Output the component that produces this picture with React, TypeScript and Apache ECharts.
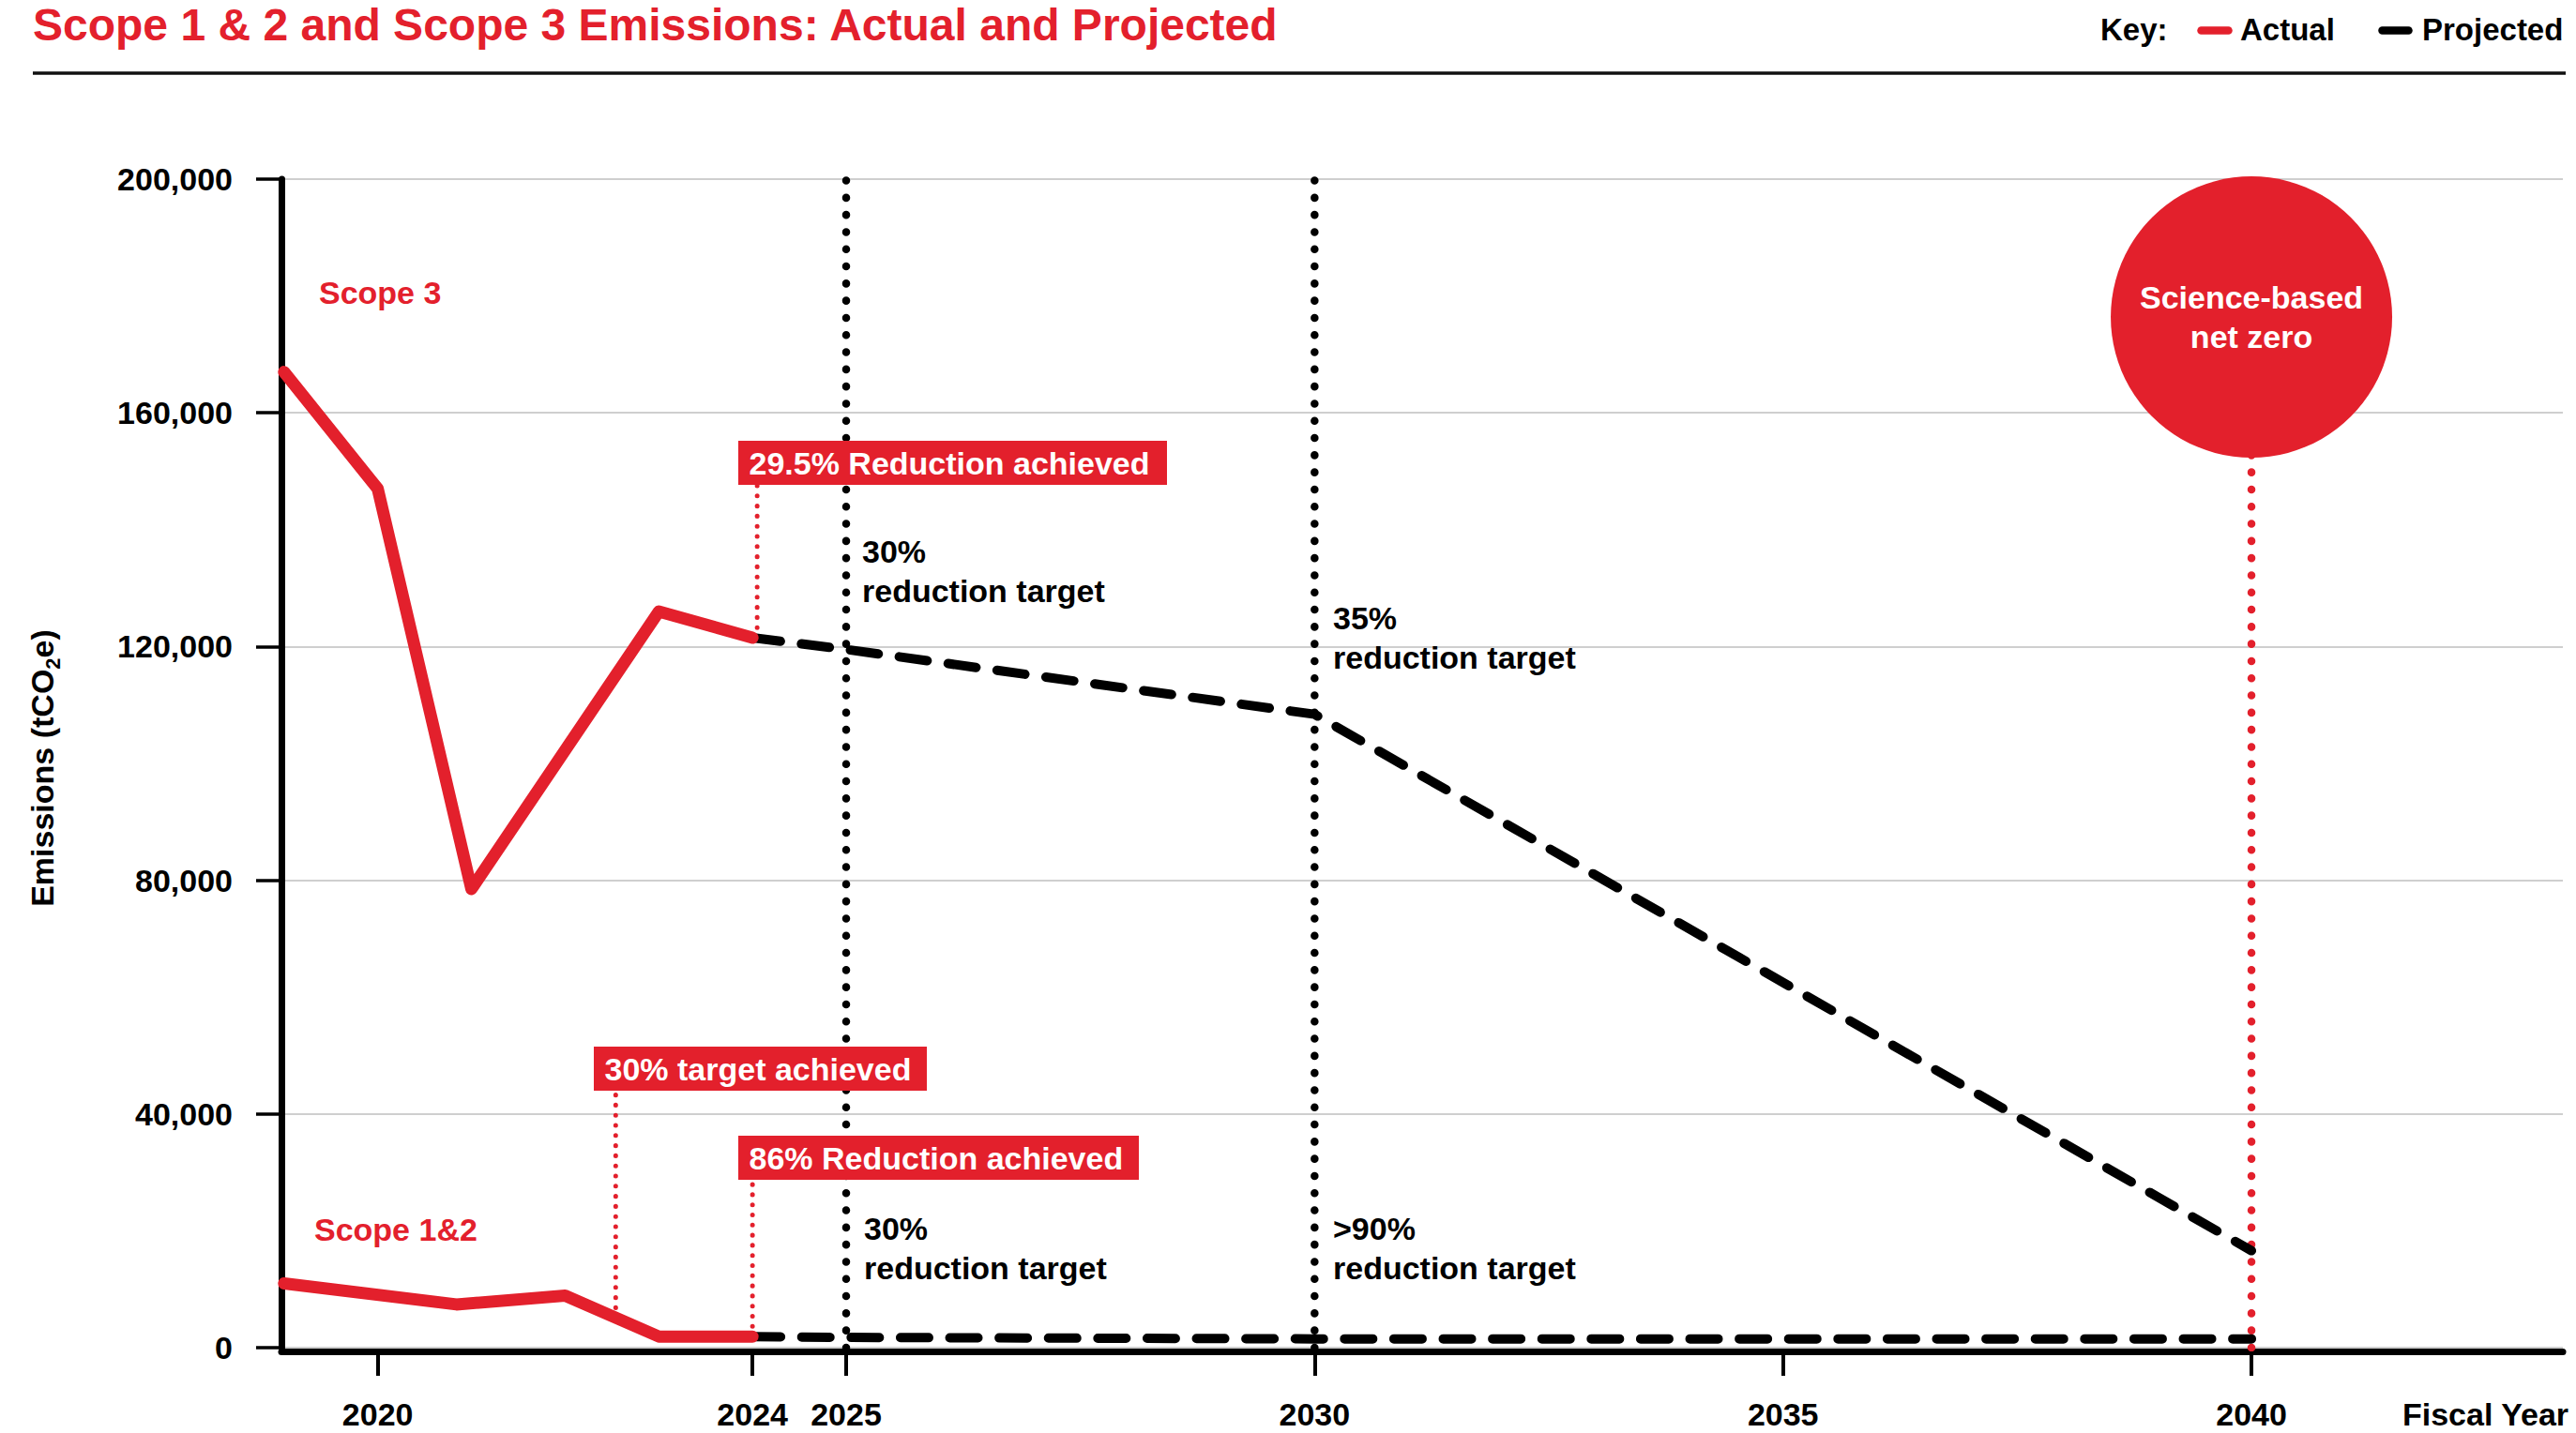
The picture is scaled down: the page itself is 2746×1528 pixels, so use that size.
import React, { useEffect, useRef } from 'react';
import * as echarts from 'echarts';

const RED = '#E3202C';
const FONT = '"Liberation Sans", Arial, Helvetica, sans-serif';

// ---- data ----
const scope3ActualYears = [2019, 2020, 2021, 2023, 2024];
const scope3ActualValues = [167000, 147000, 78500, 126000, 121500];
const scope12ActualYears = [2019, 2020.84, 2022, 2023, 2024];
const scope12ActualValues = [11000, 7400, 8900, 1900, 1900];
const projectedYears = [2024, 2025, 2030, 2040];
const scope3ProjectedValues = [121500, 119500, 108400, 16600];
const scope12ProjectedValues = [1900, 1750, 1500, 1500];
const targetYears = [2025, 2030];
const netZeroYear = 2040;
const netZeroBadgeValue = 176400;
const xTickYears = [2020, 2024, 2025, 2030, 2035, 2040];
// connectors from "achieved" boxes down to the lines: year, lower value, upper value
const connectorYears = [2024.05, 2022.54, 2024];
const connectorLow = [121500, 5100, 1900];
const connectorHigh = [147700, 44000, 28900];

const pairs = (xs: number[], ys: number[]) => xs.map((x, i) => [x, ys[i]]);

export default function App() {
  const ref = useRef<HTMLDivElement>(null);
  useEffect(() => {
    const el = ref.current!;
    const chart = echarts.init(el, null, { renderer: 'svg' });

    const txt = (text: string, x: number, y: number, opts: any = {}) => ({
      type: 'text',
      x,
      y,
      z: 100,
      silent: true,
      style: {
        text,
        fill: '#000',
        fontSize: 34,
        fontWeight: 'bold',
        fontFamily: FONT,
        textAlign: 'left',
        textVerticalAlign: 'middle',
        align: 'left',
        verticalAlign: 'middle',
        ...opts,
      },
    });
    const box = (text: string, x: number, y: number, w: number) => [
      { type: 'rect', z: 99, silent: true, shape: { x, y, width: w, height: 47 }, style: { fill: RED } },
      txt(text, x + 11.5, y + 23.5, { fill: '#fff' }),
    ];

    const lineBase = {
      type: 'line',
      symbol: 'none',
      showSymbol: false,
      silent: true,
      emphasis: { disabled: true },
      animation: false,
    };

    const series: any[] = [];
    targetYears.forEach((yr) => {
      series.push({
        ...lineBase,
        z: 1,
        data: [[yr, 0], [yr, 200000]],
        lineStyle: { color: '#000', width: 8.5, type: [0.1, 18.2], cap: 'round' },
      });
    });
    series.push({
      ...lineBase,
      z: 1,
      data: [[netZeroYear, 0], [netZeroYear, netZeroBadgeValue]],
      lineStyle: { color: RED, width: 8.5, type: [0.1, 18.2], cap: 'round' },
    });
    connectorYears.forEach((yr, i) => {
      series.push({
        ...lineBase,
        z: 1,
        data: [[yr, connectorLow[i]], [yr, connectorHigh[i]]],
        lineStyle: { color: RED, width: 5, type: [0.1, 10.7], cap: 'round' },
      });
    });
    [scope3ProjectedValues, scope12ProjectedValues].forEach((vals) => {
      series.push({
        ...lineBase,
        z: 3,
        data: pairs(projectedYears, vals),
        lineStyle: { color: '#000', width: 10, type: [30, 22.6], cap: 'round', join: 'round' },
      });
    });
    [[scope3ActualYears, scope3ActualValues], [scope12ActualYears, scope12ActualValues]].forEach(([xs, ys]) => {
      series.push({
        ...lineBase,
        z: 4,
        data: pairs(xs, ys),
        lineStyle: { color: RED, width: 13, cap: 'round', join: 'round' },
      });
    });
    series.push({
      type: 'scatter',
      z: 5,
      silent: true,
      animation: false,
      symbol: 'circle',
      symbolSize: 300,
      data: [[netZeroYear, netZeroBadgeValue]],
      itemStyle: { color: RED, opacity: 1 },
      emphasis: { disabled: true },
      label: {
        show: true,
        position: 'inside',
        formatter: 'Science-based\nnet zero',
        color: '#fff',
        opacity: 1,
        fontSize: 34,
        fontWeight: 'bold',
        fontFamily: FONT,
        lineHeight: 42,
        align: 'center',
      },
    });

    const graphic: any[] = [
      txt('Scope 1 & 2 and Scope 3 Emissions: Actual and Projected', 35, 26, { fontSize: 48, fill: RED }),
      { type: 'line', z: 100, silent: true, shape: { x1: 35, y1: 78, x2: 2735, y2: 78 }, style: { stroke: '#111', lineWidth: 3.5 } },
      txt('Key:', 2239, 31.5, { fontSize: 33 }),
      { type: 'line', z: 100, silent: true, shape: { x1: 2346.5, y1: 32.5, x2: 2375.5, y2: 32.5 }, style: { stroke: RED, lineWidth: 8.5, lineCap: 'round' } },
      txt('Actual', 2388, 31.5, { fontSize: 33 }),
      { type: 'line', z: 100, silent: true, shape: { x1: 2539.5, y1: 32.5, x2: 2567.5, y2: 32.5 }, style: { stroke: '#000', lineWidth: 8.5, lineCap: 'round' } },
      txt('Projected', 2582, 31.5, { fontSize: 33 }),
      txt('Scope 3', 340, 312, { fill: RED }),
      txt('Scope 1&2', 335, 1311, { fill: RED }),
      txt('30%\nreduction target', 919, 608.5, { lineHeight: 42 }),
      txt('35%\nreduction target', 1421, 679.6, { lineHeight: 42 }),
      txt('30%\nreduction target', 921, 1331, { lineHeight: 42 }),
      txt('>90%\nreduction target', 1421, 1331, { lineHeight: 42 }),
      ...box('29.5% Reduction achieved', 787, 470, 457),
      ...box('30% target achieved', 633, 1116, 355),
      ...box('86% Reduction achieved', 787, 1211, 427),
      txt('Fiscal Year', 2561, 1508),
      {
        type: 'text',
        x: 45,
        y: 819,
        rotation: Math.PI / 2,
        z: 100,
        silent: true,
        style: {
          text: '{a|Emissions (tCO}{s|2}{a|e)}',
          textAlign: 'center',
          textVerticalAlign: 'middle',
          align: 'center',
          verticalAlign: 'middle',
          fill: '#000',
          fontFamily: FONT,
          fontWeight: 'bold',
          fontSize: 34,
          rich: {
            a: { fontSize: 34, fontWeight: 'bold', fontFamily: FONT, fill: '#000', color: '#000', lineHeight: 44 },
            s: { fontSize: 22, fontWeight: 'bold', fontFamily: FONT, fill: '#000', color: '#000', lineHeight: 22, verticalAlign: 'bottom' },
          },
        },
      },
    ];

    chart.setOption({
      animation: false,
      textStyle: { fontFamily: FONT },
      grid: { left: 300, right: 14, top: 191, bottom: 91, containLabel: false, outerBoundsMode: 'none' },
      xAxis: {
        type: 'value',
        min: 2018.972,
        max: 2043.324,
        offset: 4,
        axisLine: { show: true, onZero: false, lineStyle: { color: '#000', width: 7 } },
        axisTick: { show: true, customValues: xTickYears, length: 26, lineStyle: { color: '#000', width: 4 } },
        axisLabel: {
          show: true,
          customValues: xTickYears,
          formatter: (v: number) => String(v),
          margin: 50,
          fontSize: 34,
          fontWeight: 'bold',
          color: '#000',
          fontFamily: FONT,
          hideOverlap: false,
        },
        splitLine: { show: false },
      },
      yAxis: {
        type: 'value',
        min: 0,
        max: 200000,
        interval: 40000,
        axisLine: { show: true, onZero: false, lineStyle: { color: '#000', width: 7 } },
        axisTick: { show: true, length: 27, lineStyle: { color: '#000', width: 3.5 } },
        axisLabel: {
          margin: 52,
          formatter: (v: number) => v.toLocaleString('en-US'),
          fontSize: 34,
          fontWeight: 'bold',
          color: '#000',
          fontFamily: FONT,
        },
        splitLine: { show: true, lineStyle: { color: '#cfcfcf', width: 2 } },
      },
      series,
      graphic,
    });

    return () => chart.dispose();
  }, []);

  return (
    <div
      ref={ref}
      style={{ position: 'fixed', left: 0, top: 0, width: 2746, height: 1528, background: '#fff' }}
    />
  );
}
